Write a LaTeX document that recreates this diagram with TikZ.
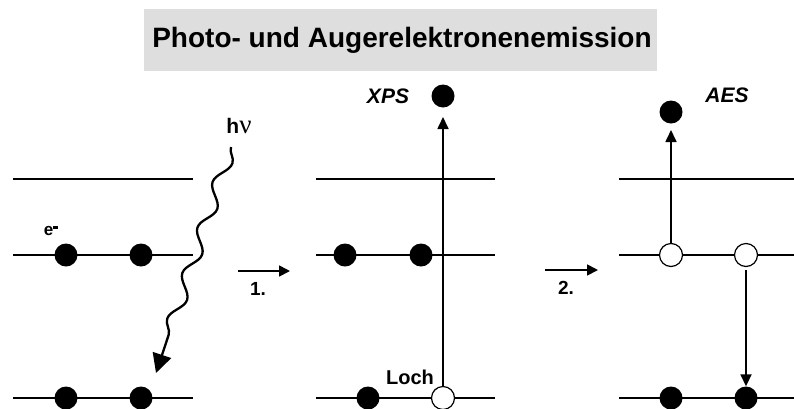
\documentclass[tikz,border=0pt]{standalone}
\usepackage{fontspec}
\setmainfont{Liberation Sans}
\newfontfamily\nufont{Liberation Serif}
\usetikzlibrary{arrows.meta,decorations.pathmorphing}
\begin{document}
\begin{tikzpicture}[x=1pt,y=-1pt,
  level/.style={line width=1.7pt},
  full/.style={circle,fill=black,minimum size=23pt,inner sep=0pt},
  hole/.style={circle,draw=black,fill=white,line width=1.2pt,minimum size=23pt,inner sep=0pt},
  trans/.style={line width=1.7pt,-{Triangle[length=12pt,width=11pt]}},
  lbl/.style={font=\bfseries\fontsize{19}{22}\selectfont},
  ilbl/.style={font=\bfseries\itshape\fontsize{21}{24}\selectfont}]
\useasboundingbox (0,0) rectangle (794,408);

% title
\fill[black!13] (144,9) rectangle (657,71);
\node[font=\bfseries\fontsize{28}{32}\selectfont] (title) at (402,40) {Photo- und Augerelektronenemission};

% energy levels
\foreach \xa/\xb in {13/193, 316/495, 619/794}{
  \foreach \y in {179,255,398}{
    \draw[level] (\xa,\y) -- (\xb,\y);
  }
}

% initial state
\node[full] (a1) at (66,255) {};
\node[full] (a2) at (141,255) {};
\node[full] (a3) at (66,398) {};
\node[full] (a4) at (141,398) {};
\node[font=\bfseries\fontsize{17}{20}\selectfont] (el) at (51,231) {e\raisebox{7pt}{\rule{5pt}{2.4pt}}};
\node[font=\bfseries\fontsize{21}{24}\selectfont] (hv) at (239,126) {h{\nufont\mdseries\fontsize{27}{30}\selectfont ν}};
\coordinate (ph0) at (231,147);
\coordinate (ph1) at (156,373);
\draw[line width=2.3pt,decorate,decoration={snake,amplitude=6.5pt,segment length=48pt,post length=18pt},
  -{Triangle[length=19pt,width=19pt]}] (ph0) -- (ph1);

% step 1
\coordinate (s1a) at (238,271);
\coordinate (s1b) at (290,271);
\draw[trans,-{Triangle[length=11pt,width=11pt]}] (s1a) -- (s1b);
\node[lbl] (n1) at (258,289) {1.};

% photoemission
\node[full] (b1) at (345,255) {};
\node[full] (b2) at (421,255) {};
\node[full] (b3) at (368,398) {};
\node[hole] (b4) at (443,398) {};
\node[full] (bx) at (443,96) {};
\coordinate (bt) at (443,117);
\draw[trans] (b4) -- (bt);
\node[ilbl] (xps) at (388,96) {XPS};
\node[lbl,font=\bfseries\fontsize{20}{24}\selectfont] (loch) at (410,377) {Loch};

% step 2
\coordinate (s2a) at (545,270);
\coordinate (s2b) at (598,270);
\draw[trans,-{Triangle[length=11pt,width=11pt]}] (s2a) -- (s2b);
\node[lbl] (n2) at (566,288) {2.};

% Auger process
\node[hole] (c1) at (671,255) {};
\node[hole] (c2) at (746,255) {};
\node[full] (c3) at (671,398) {};
\node[full] (c4) at (746,398) {};
\node[full] (cx) at (671,112) {};
\coordinate (ct) at (671,130);
\draw[trans] (c1) -- (ct);
\coordinate (cd) at (746,270);
\draw[trans] (cd) -- (c4);
\node[ilbl] (aes) at (727,95) {AES};
\end{tikzpicture}
\end{document}
